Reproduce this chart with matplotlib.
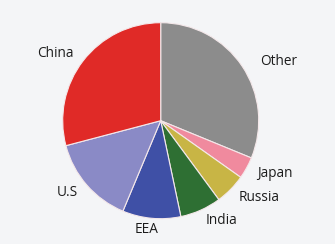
import matplotlib.pyplot as plt

labels = ["Other", "Japan", "Russia", "India", "EEA", "U.S", "China"]
shares = [31.2, 3.6, 5.1, 6.8, 9.6, 14.6, 29.1]
colors = ["#8c8c8c", "#f08a9e", "#c8b545", "#2e6f33", "#3f50a6", "#8a8ac6", "#e02a27"]

W, H = 335, 244
cx, cy, r = 160.7, 123.3, 98.0  # centre (px from left / bottom) and radius

fig = plt.figure(figsize=(W / 100, H / 100), dpi=100)
fig.patch.set_facecolor("#f4f5f7")
ax = fig.add_axes([0, 0, 1, 1])
ax.set_facecolor("#f4f5f7")

wedges, texts = ax.pie(
    shares, labels=labels, colors=colors, startangle=90, counterclock=False,
    labeldistance=1.12,
    wedgeprops=dict(edgecolor="#f4e8ea", linewidth=0.8),
    textprops=dict(fontsize=9.8, color="#1c1c1c", family="Open Sans"),
)
# small nudges so labels sit where the original puts them
texts[0].set_position((texts[0].get_position()[0] + 0.08, texts[0].get_position()[1] - 0.02))
texts[4].set_position((texts[4].get_position()[0] + 0.08, texts[4].get_position()[1]))

ax.set_xlim(-cx / r, (W - cx) / r)
ax.set_ylim(-cy / r, (H - cy) / r)
ax.set_aspect("auto")
ax.axis("off")

plt.savefig("out.png", dpi=100, facecolor=fig.get_facecolor())
